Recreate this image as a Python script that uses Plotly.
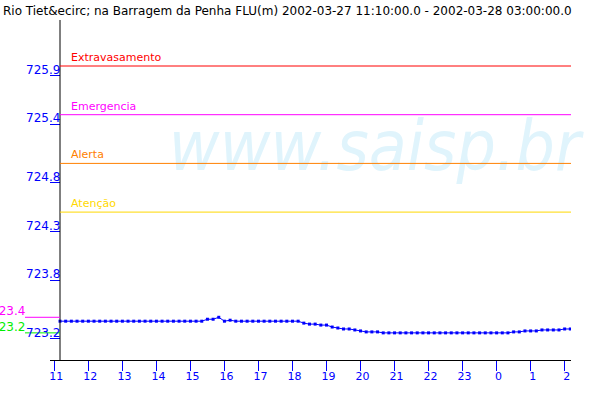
import math
import pandas as pd
import plotly.graph_objects as go

title_text = "Rio Tiet&ecirc; na Barragem da Penha FLU(m) 2002-03-27 11:10:00.0 - 2002-03-28 03:00:00.0"
start_time = "2002-03-27 11:10"
sample_step = "10min"

# water level (m), one reading every 10 minutes from 11:10
level_m = [
    723.38, 723.38, 723.38, 723.38, 723.38, 723.38, 723.38, 723.38, 723.38, 723.38,
    723.38, 723.38, 723.38, 723.38, 723.38, 723.38, 723.38, 723.38, 723.38, 723.38,
    723.38, 723.38, 723.38, 723.38, 723.38, 723.38,
    723.40, 723.40, 723.42, 723.38, 723.39, 723.38,
    723.38, 723.38, 723.38, 723.38, 723.38, 723.38, 723.38, 723.38, 723.38, 723.38,
    723.38, 723.36, 723.35, 723.35, 723.34, 723.34, 723.32, 723.31, 723.30, 723.30,
    723.29, 723.28, 723.27, 723.27, 723.27, 723.26,
    723.26, 723.26, 723.26, 723.26, 723.26, 723.26, 723.26, 723.26, 723.26, 723.26,
    723.26, 723.26, 723.26, 723.26, 723.26, 723.26, 723.26, 723.26, 723.26, 723.26,
    723.26, 723.26,
    723.27, 723.27, 723.28, 723.28, 723.28, 723.29, 723.29, 723.29, 723.29, 723.30,
    723.30,
]

threshold_names = ["Extravasamento", "Emergencia", "Alerta", "Atenção"]
threshold_values = [726.0, 725.5, 725.0, 724.5]
threshold_colors = ["#FF0000", "#FF00FF", "#FF8000", "#FFD800"]

y_tick_values = [725.9, 725.4, 724.8, 724.3, 723.8, 723.2]
x_tick_labels = ["11", "12", "13", "14", "15", "16", "17", "18", "19", "20",
                 "21", "22", "23", "0", "1", "2"]
x_tick_first = "2002-03-27 11:00"

x_range = ["2002-03-27 10:52:21", "2002-03-28 02:11:12"]
y_range = [722.9815, 726.4723]

times = pd.date_range(start_time, periods=len(level_m), freq=sample_step)
x_tick_times = pd.date_range(x_tick_first, periods=len(x_tick_labels), freq="h")

FONT = "DejaVu Sans"
BLUE = "#0000FF"

fig = go.Figure()

# watermark
fig.add_trace(go.Scatter(
    x=["2002-03-27 20:25"], y=[725.11], mode="text", text=["www.saisp.br"],
    textposition="middle center", cliponaxis=False,
    textfont=dict(family="DejaVu Sans Condensed, DejaVu Sans", size=69,
                  color="#E0F4FC", style="italic"),
    hoverinfo="skip", showlegend=False,
))

fig.add_trace(go.Scatter(
    x=times, y=level_m, mode="lines+markers",
    line=dict(color=BLUE, width=1),
    marker=dict(symbol="square", size=3, color=BLUE),
    showlegend=False,
))

shapes = []
annotations = []

# y axis line at start time
shapes.append(dict(type="line", xref="x", yref="paper", x0=start_time, x1=start_time,
                   y0=0, y1=1, line=dict(color="black", width=1), layer="above"))

for name, val, col in zip(threshold_names, threshold_values, threshold_colors):
    shapes.append(dict(type="line", xref="x", yref="y", x0=start_time, x1=x_range[1],
                       y0=val, y1=val, line=dict(color=col, width=1), layer="above"))
    annotations.append(dict(xref="x", yref="y", x=start_time, y=val, text=name,
                            xanchor="left", yanchor="bottom", xshift=9, yshift=0,
                            showarrow=False, font=dict(family=FONT, size=11, color=col)))

for v in y_tick_values:
    annotations.append(dict(xref="x", yref="y", x=start_time, y=v, text=f"{v:.1f}",
                            xanchor="right", yanchor="bottom", xshift=2, yshift=-3,
                            showarrow=False, font=dict(family=FONT, size=12, color=BLUE)))

# max / min markers left of the axis
plot_left_px = 50
plot_w_px = 600 - 50 - 29.3
vmax = max(level_m)
vmin = min(level_m)
for v, col in [(vmax, "#FF00FF"), (vmin, "#00EE00")]:
    shapes.append(dict(type="line", xref="paper", yref="y",
                       x0=(25 - plot_left_px) / plot_w_px, x1=(60 - plot_left_px) / plot_w_px,
                       y0=v, y1=v, line=dict(color=col, width=1), layer="above"))
    label = f"{math.floor(v * 10 + 1e-9) / 10:.1f}"
    annotations.append(dict(xref="paper", yref="y", x=(25 - plot_left_px) / plot_w_px, y=v,
                            text=label, xanchor="right", yanchor="bottom", xshift=2, yshift=-3,
                            showarrow=False, font=dict(family=FONT, size=12, color=col)))

fig.update_layout(
    width=600, height=400,
    margin=dict(l=50, r=29.3, t=20, b=40),
    paper_bgcolor="white", plot_bgcolor="white",
    showlegend=False,
    title=dict(text=title_text, x=3 / 600, xanchor="left", xref="container",
               y=1 - 11 / 400, yanchor="middle", yref="container",
               font=dict(family=FONT, size=12, color="black")),
    xaxis=dict(type="date", range=x_range, tickvals=x_tick_times, ticktext=x_tick_labels,
               ticks="outside", ticklen=10, tickcolor=BLUE, tickwidth=1,
               tickfont=dict(family=FONT, size=11, color=BLUE),
               showline=True, linecolor="black", linewidth=1,
               showgrid=False, zeroline=False, ticklabelshift=2, ticklabelstandoff=-4),
    yaxis=dict(range=y_range, tickvals=y_tick_values, showticklabels=False,
               ticks="inside", ticklen=10, tickcolor=BLUE, tickwidth=1,
               showline=False, showgrid=False, zeroline=False),
    shapes=shapes, annotations=annotations,
)

fig.write_html("out.html", config={"displayModeBar": False},
               post_script="document.body.style.margin='0px';document.body.style.overflow='hidden';")
